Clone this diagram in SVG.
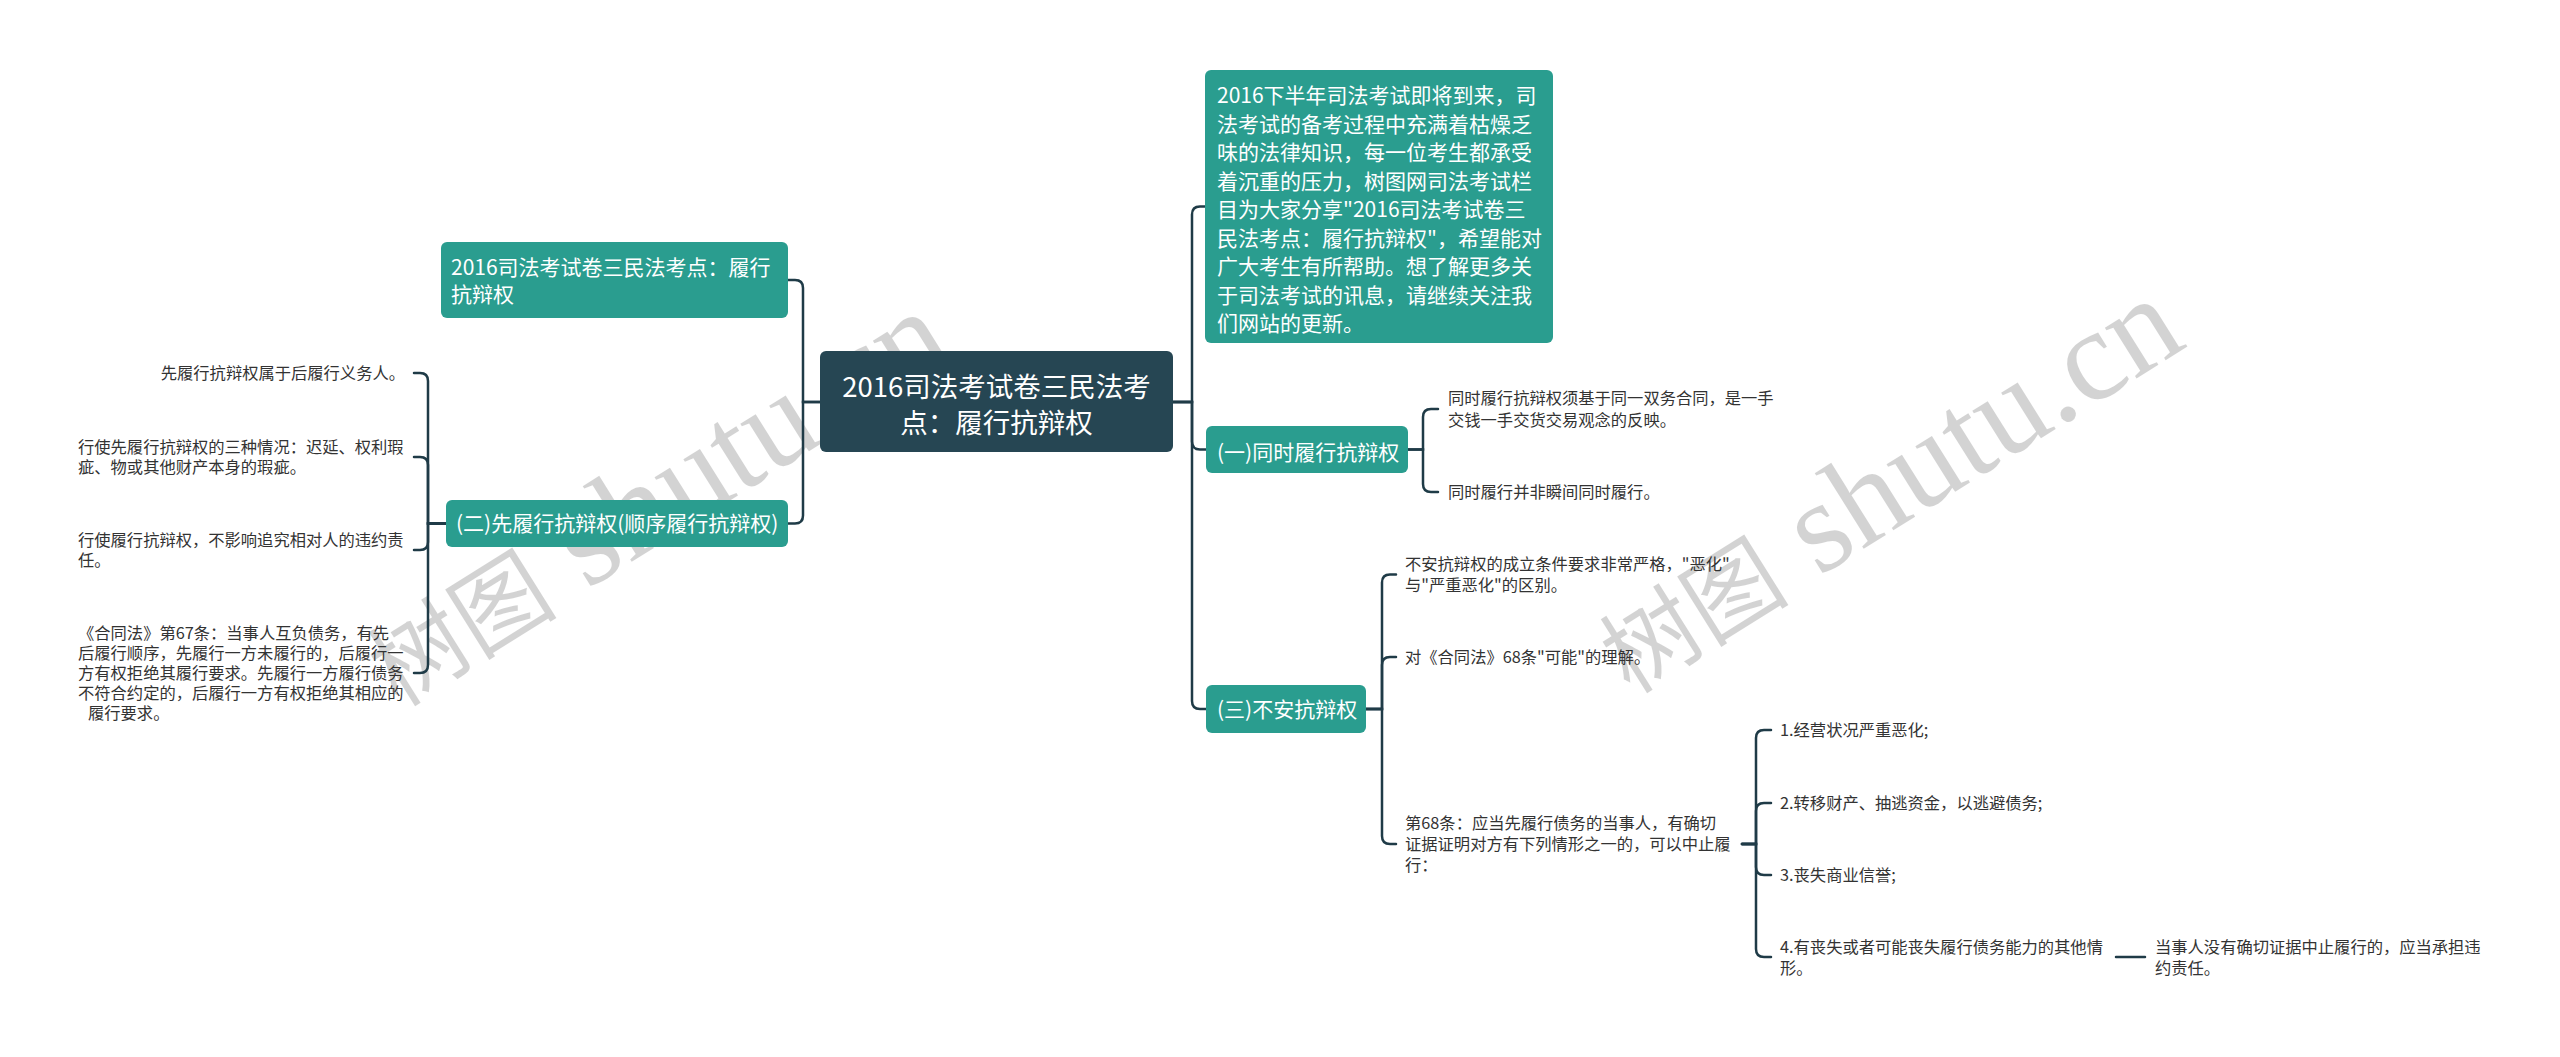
<svg xmlns="http://www.w3.org/2000/svg" width="2560" height="1057" viewBox="0 0 2560 1057">
<style>
.wm{font-family:"Liberation Serif","Noto Sans CJK SC",serif;fill:#000;opacity:0.17}
.wmc{font-family:"Noto Sans CJK SC",sans-serif;font-size:95px}
.wml{font-size:130px}
.c{fill:none;stroke:#1f3b47;stroke-width:2.5;stroke-linecap:round}
.box{fill:#2a9d8f}
.root{fill:#264653}
.nt{font-family:"Noto Sans CJK SC","Noto Sans",sans-serif;font-size:21px;fill:#ffffff}
.rt{font-family:"Noto Sans CJK SC","Noto Sans",sans-serif;font-size:27.5px;fill:#ffffff;text-anchor:middle}
.lt{font-family:"Noto Sans CJK SC","Noto Sans",sans-serif;font-size:16.3px;fill:#333333}
</style>
<rect width="2560" height="1057" fill="#ffffff"/>
<g id="watermark">
<text class="wm" transform="translate(398,708) rotate(-32)"><tspan class="wmc">树图</tspan><tspan class="wml"> shutu.cn</tspan></text>
<text class="wm" transform="translate(1630,695) rotate(-32)"><tspan class="wmc">树图</tspan><tspan class="wml"> shutu.cn</tspan></text>
</g>
<g id="connectors">
<path class="c" d="M820,402 H803 V288 Q803,280 795,280 H788"/>
<path class="c" d="M820,402 H803 V515.5 Q803,523.5 795,523.5 H788"/>
<path class="c" d="M1173,402 H1192 V214.5 Q1192,206.5 1200,206.5 H1205"/>
<path class="c" d="M1173,402 H1192 V441.5 Q1192,449.5 1200,449.5 H1206"/>
<path class="c" d="M1173,402 H1192 V701 Q1192,709 1200,709 H1206"/>
<path class="c" d="M1408,449.5 H1423 V417 Q1423,409 1431,409 H1438"/>
<path class="c" d="M1408,449.5 H1423 V484 Q1423,492 1431,492 H1438"/>
<path class="c" d="M1366,709 H1382 V582.5 Q1382,574.5 1390,574.5 H1396"/>
<path class="c" d="M1366,709 H1382 V665 Q1382,657 1390,657 H1396"/>
<path class="c" d="M1366,709 H1382 V836 Q1382,844 1390,844 H1396"/>
<path class="c" d="M446,523.5 H428 V381 Q428,373 420,373 H414"/>
<path class="c" d="M446,523.5 H428 V465 Q428,457 420,457 H414"/>
<path class="c" d="M446,523.5 H428 V542 Q428,550 420,550 H414"/>
<path class="c" d="M446,523.5 H428 V665 Q428,673 420,673 H414"/>
<path class="c" d="M1742,844 H1756 V738 Q1756,730 1764,730 H1771"/>
<path class="c" d="M1742,844 H1756 V811 Q1756,803 1764,803 H1771"/>
<path class="c" d="M1742,844 H1756 V867 Q1756,875 1764,875 H1771"/>
<path class="c" d="M1742,844 H1756 V949 Q1756,957 1764,957 H1771"/>
<path class="c" d="M2116,957 H2145"/>
</g>
<g id="root">
<rect class="root" x="820" y="351" width="353" height="101" rx="6"/>
<text class="rt" x="996.5" y="397">2016司法考试卷三民法考</text>
<text class="rt" x="996.5" y="433">点：履行抗辩权</text>
</g>
<g id="n-title">
<rect class="box" x="441" y="242" width="347" height="76" rx="6"/>
<text class="nt" x="451" y="275">2016司法考试卷三民法考点：履行</text>
<text class="nt" x="451" y="302">抗辩权</text>
</g>
<g id="n-2">
<rect class="box" x="446" y="500" width="342" height="47" rx="6"/>
<text class="nt" x="456" y="531">(二)先履行抗辩权(顺序履行抗辩权)</text>
</g>
<g id="n-intro">
<rect class="box" x="1205" y="70" width="348" height="273" rx="6"/>
<text class="nt" x="1217" y="103">2016下半年司法考试即将到来，司</text>
<text class="nt" x="1217" y="131.5">法考试的备考过程中充满着枯燥乏</text>
<text class="nt" x="1217" y="160">味的法律知识，每一位考生都承受</text>
<text class="nt" x="1217" y="188.5">着沉重的压力，树图网司法考试栏</text>
<text class="nt" x="1217" y="217">目为大家分享"2016司法考试卷三</text>
<text class="nt" x="1217" y="245.5">民法考点：履行抗辩权"，希望能对</text>
<text class="nt" x="1217" y="274">广大考生有所帮助。想了解更多关</text>
<text class="nt" x="1217" y="302.5">于司法考试的讯息，请继续关注我</text>
<text class="nt" x="1217" y="331">们网站的更新。</text>
</g>
<g id="n-1">
<rect class="box" x="1206" y="426" width="202" height="47" rx="6"/>
<text class="nt" x="1217" y="459.5">(一)同时履行抗辩权</text>
</g>
<g id="n-3">
<rect class="box" x="1206" y="685" width="160" height="48" rx="6"/>
<text class="nt" x="1217" y="716.5">(三)不安抗辩权</text>
</g>
<g id="l-2a"><text class="lt" x="405" y="379" text-anchor="end">先履行抗辩权属于后履行义务人。</text></g>
<g id="l-2b">
<text class="lt" x="78" y="453">行使先履行抗辩权的三种情况：迟延、权利瑕</text>
<text class="lt" x="78" y="473">疵、物或其他财产本身的瑕疵。</text>
</g>
<g id="l-2c">
<text class="lt" x="78" y="546">行使履行抗辩权，不影响追究相对人的违约责</text>
<text class="lt" x="78" y="566">任。</text>
</g>
<g id="l-2d">
<text class="lt" x="78" y="639">《合同法》第67条：当事人互负债务，有先</text>
<text class="lt" x="78" y="659">后履行顺序，先履行一方未履行的，后履行一</text>
<text class="lt" x="78" y="679">方有权拒绝其履行要求。先履行一方履行债务</text>
<text class="lt" x="78" y="699">不符合约定的，后履行一方有权拒绝其相应的</text>
<text class="lt" x="88" y="719">履行要求。</text>
</g>
<g id="l-1a">
<text class="lt" x="1448" y="404">同时履行抗辩权须基于同一双务合同，是一手</text>
<text class="lt" x="1448" y="426">交钱一手交货交易观念的反映。</text>
</g>
<g id="l-1b"><text class="lt" x="1448" y="498">同时履行并非瞬间同时履行。</text></g>
<g id="l-3a">
<text class="lt" x="1405" y="570">不安抗辩权的成立条件要求非常严格，"恶化"</text>
<text class="lt" x="1405" y="591">与"严重恶化"的区别。</text>
</g>
<g id="l-3b"><text class="lt" x="1405" y="663">对《合同法》68条"可能"的理解。</text></g>
<g id="l-3c">
<text class="lt" x="1405" y="829">第68条：应当先履行债务的当事人，有确切</text>
<text class="lt" x="1405" y="850">证据证明对方有下列情形之一的，可以中止履</text>
<text class="lt" x="1405" y="871">行：</text>
</g>
<g id="l-c1"><text class="lt" x="1780" y="736">1.经营状况严重恶化;</text></g>
<g id="l-c2"><text class="lt" x="1780" y="809">2.转移财产、抽逃资金，以逃避债务;</text></g>
<g id="l-c3"><text class="lt" x="1780" y="881">3.丧失商业信誉;</text></g>
<g id="l-c4">
<text class="lt" x="1780" y="953">4.有丧失或者可能丧失履行债务能力的其他情</text>
<text class="lt" x="1780" y="974">形。</text>
</g>
<g id="l-c4a">
<text class="lt" x="2155" y="953">当事人没有确切证据中止履行的，应当承担违</text>
<text class="lt" x="2155" y="974">约责任。</text>
</g>
</svg>
